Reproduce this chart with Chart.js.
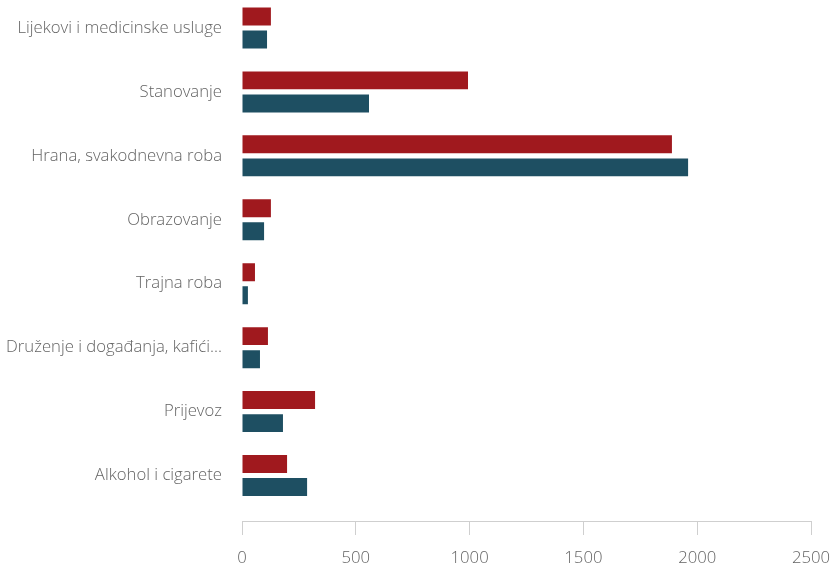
<!DOCTYPE html>
<html>
<head>
<meta charset="utf-8">
<script src="https://cdn.jsdelivr.net/npm/chart.js@4/dist/chart.umd.min.js"></script>
<style>
  html, body { margin: 0; padding: 0; background: #fff; overflow: hidden; }
  .okvir { position: absolute; left: 0; top: -4px; width: 832px; height: 569px; }
</style>
</head>
<body>
<div class="okvir"><canvas class="grafica"></canvas></div>
<script>
const kategorije = [
    'Lijekovi i medicinske usluge',
    'Stanovanje',
    'Hrana, svakodnevna roba',
    'Obrazovanje',
    'Trajna roba',
    'Druženje i događanja, kafići...',
    'Prijevoz',
    'Alkohol i cigarete'
];
const serija1 = [127, 993, 1889, 127, 57, 114, 321, 198];
const serija2 = [110, 558, 1960, 97, 26, 79, 180, 286];
const xTicks = [0, 500, 1000, 1500, 2000, 2500];

const crvena = '#a0191e';
const plava = '#1e4f62';
const siva = '#cfcfcf';

Chart.defaults.font.family = "'Open Sans', 'Noto Sans', sans-serif";
Chart.defaults.font.size = 16.7;
Chart.defaults.font.weight = '300';
Chart.defaults.color = '#646464';

const data = {
    labels: kategorije,
    datasets: [{
        label: 'Serija 1',
        data: serija1,
        xAxisID: 'x',
        backgroundColor: crvena,
        categoryPercentage: 0.72,
        barPercentage: 0.78
    }, {
        label: 'Serija 2',
        data: serija2,
        xAxisID: 'x',
        backgroundColor: plava,
        categoryPercentage: 0.72,
        barPercentage: 0.78
    }]
};

const config = {
    type: 'bar',
    data: data,
    options: {
        indexAxis: 'y',
        responsive: true,
        maintainAspectRatio: false,
        animation: false,
        layout: {
            padding: { top: 0, right: 21, bottom: 0, left: 0 }
        },
        plugins: {
            legend: { display: false },
            tooltip: { enabled: false }
        },
        scales: {
            y: {
                grid: { display: false, drawTicks: false },
                border: { display: false },
                ticks: { padding: 20 },
                afterFit: function(scale) {
                    scale.width = 242;
                    scale.paddingTop = 0;
                    scale.paddingBottom = 0;
                }
            },
            x: {
                position: 'bottom',
                weight: 1,
                min: 0,
                max: 2500,
                afterBuildTicks: function(scale) {
                    scale.ticks = xTicks.map(v => ({ value: v }));
                },
                grid: {
                    drawOnChartArea: false,
                    color: siva,
                    tickLength: 14
                },
                border: { color: siva },
                ticks: {
                    padding: 13,
                    callback: function(value) { return String(value); }
                },
                afterFit: function(scale) {
                    scale.height = 44;
                    scale.paddingLeft = 0;
                    scale.paddingRight = 0;
                }
            },
            // prazan razmak između zadnje kategorije i osi x
            razmak: {
                type: 'linear',
                axis: 'x',
                position: 'bottom',
                weight: 0,
                grid: { display: false },
                border: { display: false },
                ticks: { display: false },
                afterFit: function(scale) {
                    scale.height = 13.5;
                    scale.paddingLeft = 0;
                    scale.paddingRight = 0;
                }
            }
        }
    }
};

const ctx = document.querySelector('.grafica');
const grafica = new Chart(ctx, config);
</script>
</body>
</html>
